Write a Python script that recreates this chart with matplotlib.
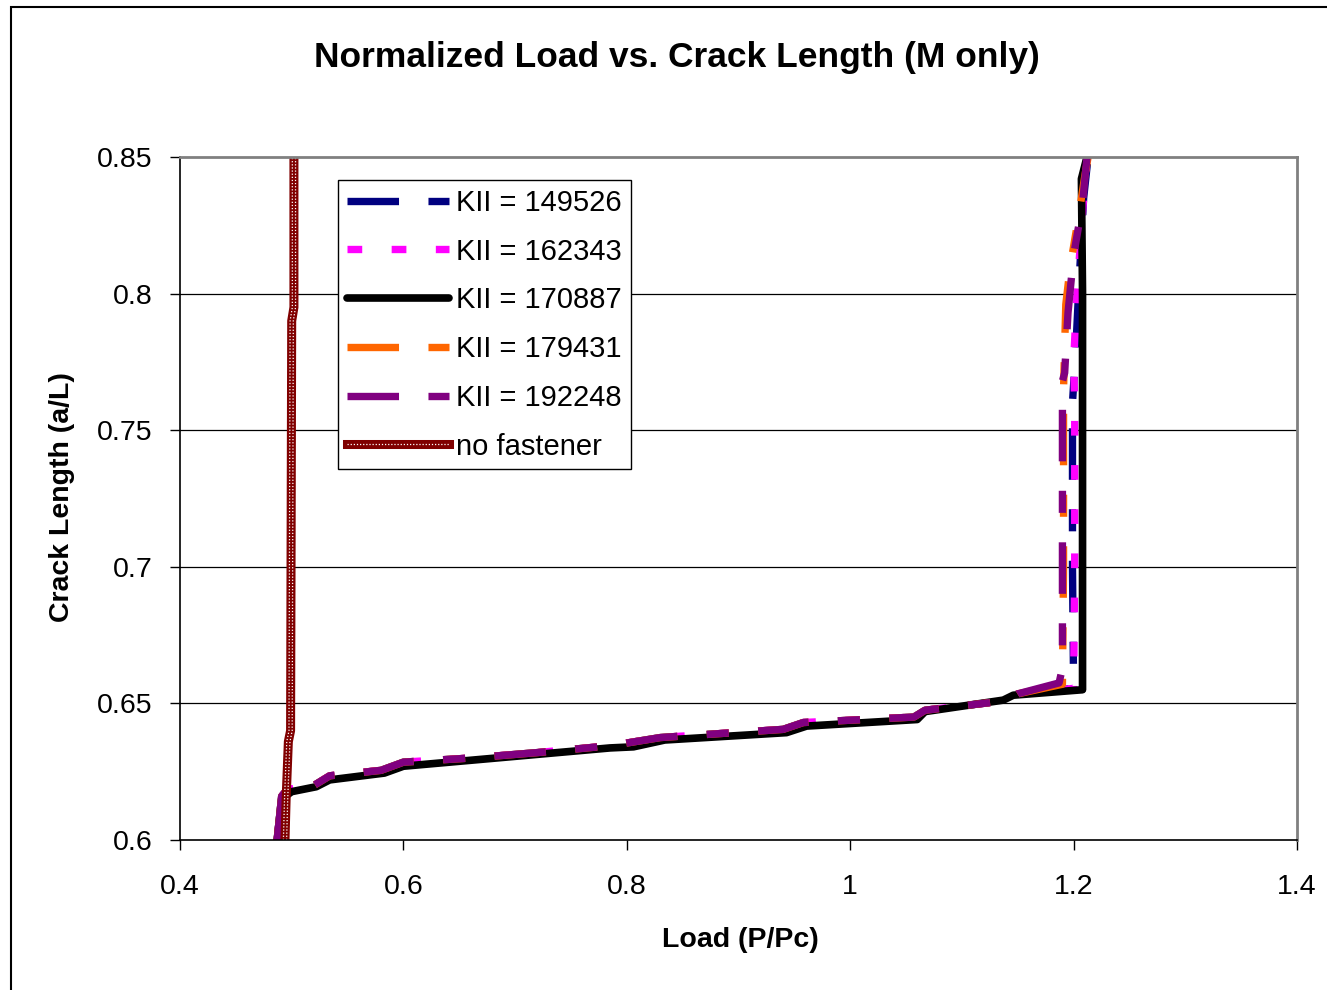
import matplotlib.pyplot as plt
from matplotlib.lines import Line2D
from matplotlib.patches import Rectangle
import matplotlib.transforms as mtransforms

plt.rcParams['font.family'] = ['Liberation Sans', 'DejaVu Sans']

# shared lower branch of the fastener curves (P/Pc, a/L)
lower_x = [0.487, 0.491, 0.496, 0.52, 0.534, 0.58, 0.60, 0.66, 0.72, 0.785, 0.83, 0.94, 0.958, 1.057, 1.067, 1.14, 1.15]
lower_y = [0.600, 0.616, 0.6185, 0.620, 0.6235, 0.6255, 0.6285, 0.630, 0.632, 0.6345, 0.6375, 0.6405, 0.643, 0.645, 0.6475, 0.651, 0.6535]

# upper branches
k1_x = [1.200, 1.199, 1.199, 1.202, 1.205, 1.209, 1.213]
k1_y = [0.6555, 0.700, 0.760, 0.780, 0.805, 0.835, 0.850]
k2_x = [1.200, 1.201, 1.201, 1.200, 1.203, 1.208, 1.212]
k2_y = [0.6555, 0.700, 0.760, 0.775, 0.800, 0.830, 0.850]
k4_x = [1.190, 1.191, 1.191, 1.193, 1.197, 1.204, 1.210, 1.213]
k4_y = [0.657, 0.700, 0.765, 0.796, 0.810, 0.827, 0.843, 0.850]
k5_x = [1.187, 1.190, 1.190, 1.192, 1.195, 1.200, 1.208, 1.212]
k5_y = [0.6575, 0.663, 0.768, 0.771, 0.793, 0.814, 0.833, 0.850]

# KII = 170887 runs a bit lower and turns at 1.208
k3_x = [0.487, 0.491, 0.500, 0.522, 0.534, 0.583, 0.600, 0.785, 0.806, 0.834, 0.943, 0.961, 1.060, 1.067, 1.137, 1.146, 1.208, 1.208, 1.207, 1.212]
k3_y = [0.600, 0.615, 0.6177, 0.6195, 0.622, 0.6245, 0.627, 0.6337, 0.6341, 0.6366, 0.6393, 0.6417, 0.6441, 0.647, 0.6512, 0.653, 0.655, 0.800, 0.842, 0.850]

# no fastener
nf_x = [0.494, 0.495, 0.497, 0.499, 0.500, 0.502, 0.502]
nf_y = [0.600, 0.615, 0.636, 0.640, 0.790, 0.795, 0.850]

labels = ["KII = 149526", "KII = 162343", "KII = 170887", "KII = 179431", "KII = 192248", "no fastener"]

fig = plt.figure(figsize=(13.27, 9.9), dpi=100)
ax = fig.add_axes([180 / 1327, 1 - 840 / 990, 1117 / 1327, 683 / 990])

dash_ld = (0, (7, 4, 3, 4))
ax.plot(lower_x + k1_x, lower_y + k1_y, color='#000080', lw=5.3, linestyle=dash_ld)
ax.plot(lower_x + k2_x, lower_y + k2_y, color='#FF00FF', lw=5.3, linestyle=(0, (2, 4)))
ax.plot(k3_x, k3_y, color='black', lw=5.5, solid_capstyle='round', solid_joinstyle='round')
ax.plot(lower_x + k4_x, lower_y + k4_y, color='#FF6600', lw=5.3, linestyle=dash_ld)
ax.plot(lower_x + k5_x, lower_y + k5_y, color='#800080', lw=5.3, linestyle=dash_ld)

# textured dark red line for no fastener
ax.plot(nf_x, nf_y, color='#800000', lw=6.5)
for dx in (-1.6, 1.6):
    tr = mtransforms.offset_copy(ax.transData, fig=fig, x=dx, y=0, units='dots')
    ax.plot(nf_x, nf_y, color='white', lw=0.9, linestyle=(0, (1, 1.5)), transform=tr)

ax.set_xlim(0.4, 1.4)
ax.set_ylim(0.6, 0.85)
ax.set_xticks([0.4, 0.6, 0.8, 1.0, 1.2, 1.4])
ax.set_xticklabels(["0.4", "0.6", "0.8", "1", "1.2", "1.4"])
ax.set_yticks([0.6, 0.65, 0.7, 0.75, 0.8, 0.85])
ax.set_yticklabels(["0.6", "0.65", "0.7", "0.75", "0.8", "0.85"])
ax.tick_params(direction='out', length=7, width=1, labelsize=20.5)
ax.tick_params(axis='x', pad=17.5)
ax.tick_params(axis='y', pad=12.5)
for y in [0.65, 0.7, 0.75, 0.8]:
    ax.axhline(y, color='black', lw=0.9, zorder=0)
ax.spines['left'].set_linewidth(1.2)
ax.spines['bottom'].set_linewidth(1.2)
ax.spines['top'].set_color('#808080')
ax.spines['right'].set_color('#808080')
ax.spines['top'].set_linewidth(2)
ax.spines['right'].set_linewidth(2)

handles = [
    Line2D([], [], color='#000080', lw=5.3, linestyle=dash_ld),
    Line2D([], [], color='#FF00FF', lw=5.3, linestyle=(0, (2, 4))),
    Line2D([], [], color='black', lw=5.5, solid_capstyle='round'),
    Line2D([], [], color='#FF6600', lw=5.3, linestyle=dash_ld),
    Line2D([], [], color='#800080', lw=5.3, linestyle=dash_ld),
    (Line2D([], [], color='#800000', lw=6.5),
     Line2D([], [], color='white', lw=0.9, linestyle=(0, (1, 1.5)))),
]
leg = ax.legend(handles, labels, loc='upper left', bbox_to_anchor=(0.1415, 0.966),
                fontsize=21, frameon=True, fancybox=False, framealpha=1,
                edgecolor='black', handlelength=3.5, handletextpad=0.25,
                labelspacing=0.71, borderpad=0.3, borderaxespad=0)
leg.get_frame().set_linewidth(1)

fig.text(677 / 1327, 1 - 58 / 990, "Normalized Load vs. Crack Length (M only)",
         ha='center', va='center', fontsize=25.5, fontweight='bold')
fig.text(740 / 1327, 1 - 940 / 990, "Load (P/Pc)", ha='center', va='center',
         fontsize=20.5, fontweight='bold')
fig.text(62 / 1327, 1 - 497 / 990, "Crack Length (a/L)", ha='center', va='center',
         rotation=90, fontsize=20.5, fontweight='bold')

# outer chart border (only left and top edges are in view)
fig.patches.append(Rectangle((11 / 1327, -0.05), 1.1, 1.05 - 7 / 990, transform=fig.transFigure,
                             fill=False, edgecolor='black', lw=1.5))

fig.savefig("out.png", dpi=100)
